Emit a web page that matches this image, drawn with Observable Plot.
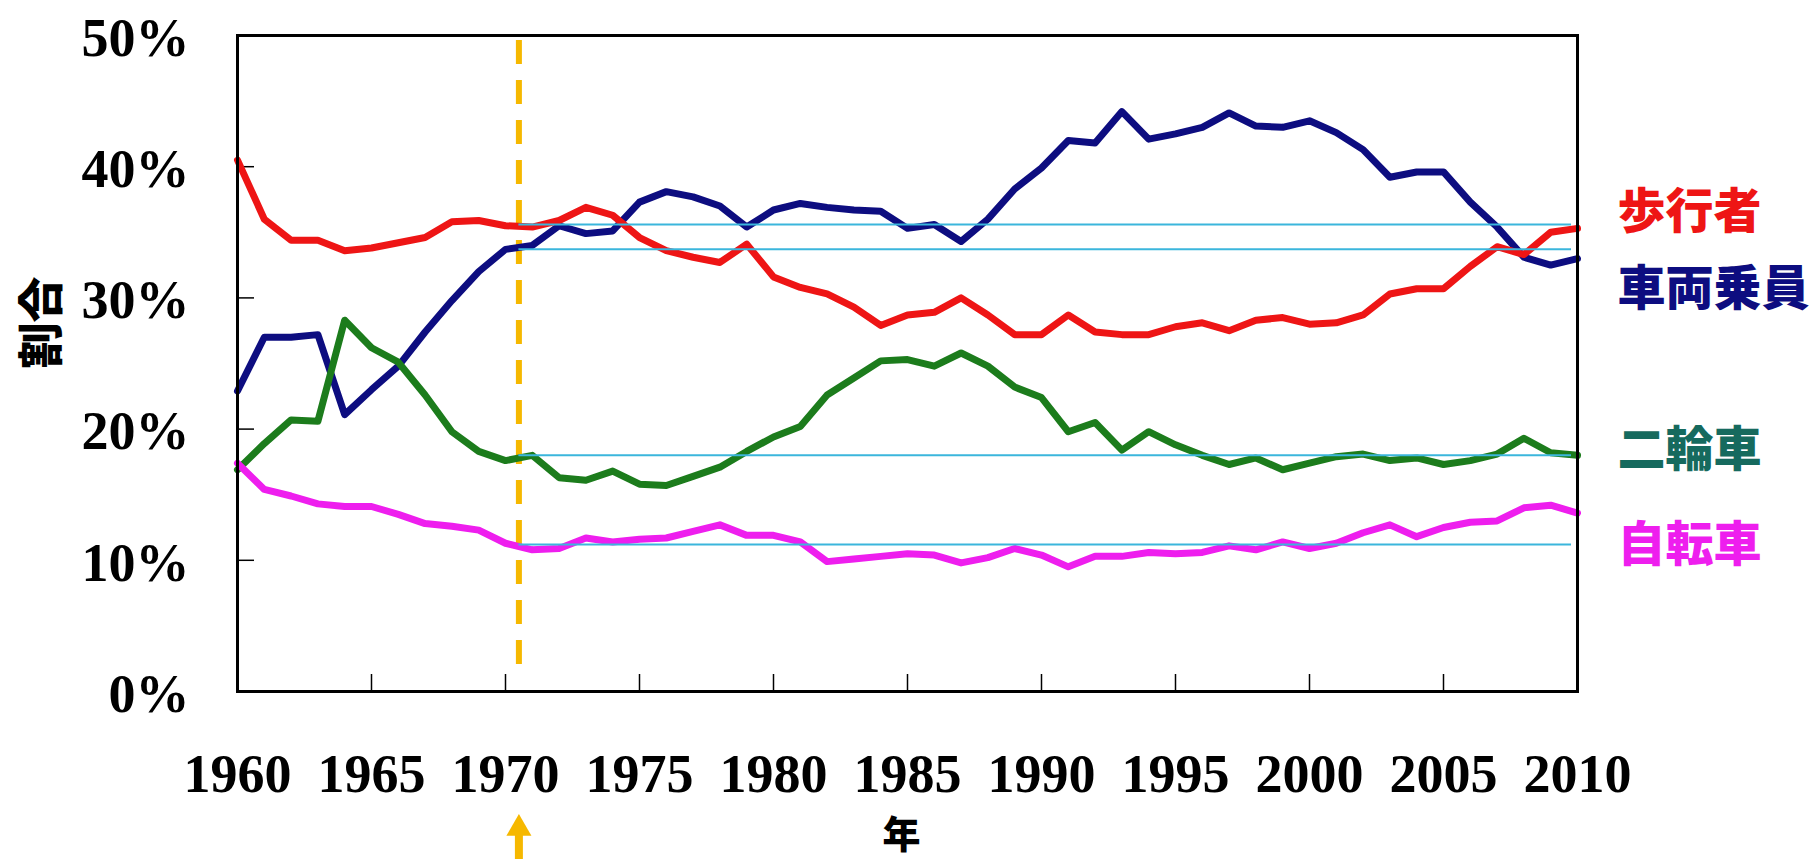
<!DOCTYPE html>
<html>
<head>
<meta charset="utf-8">
<script src="https://cdn.jsdelivr.net/npm/d3@7"></script>
<script src="https://cdn.jsdelivr.net/npm/@observablehq/plot@0.6"></script>
<style>
  html, body { margin: 0; padding: 0; background: #ffffff; }
</style>
</head>
<body>
<div id="chart"></div>
<script>
const years = d3.range(1960, 2011);

const pedestrian = [40.5,36.0,34.4,34.4,33.6,33.8,34.2,34.6,35.8,35.9,
  35.5,35.4,35.9,36.9,36.3,34.6,33.6,33.1,32.7,34.1,
  31.6,30.8,30.3,29.3,27.9,28.7,28.9,30.0,28.7,27.2,
  27.2,28.7,27.4,27.2,27.2,27.8,28.1,27.5,28.3,28.5,
  28.0,28.1,28.7,30.3,30.7,30.7,32.4,33.9,33.3,35.0,35.3];

const vehicle = [22.9,27.0,27.0,27.2,21.1,23.0,24.8,27.4,29.8,32.0,
  33.7,34.0,35.5,34.9,35.1,37.3,38.1,37.7,37.0,35.4,
  36.7,37.2,36.9,36.7,36.6,35.3,35.6,34.3,36.0,38.3,
  39.9,42.0,41.8,44.2,42.1,42.5,43.0,44.1,43.1,43.0,
  43.5,42.6,41.3,39.2,39.6,39.6,37.3,35.4,33.1,32.5,33.0];

const twoWheel = [16.9,18.9,20.7,20.6,28.3,26.2,25.1,22.6,19.8,18.3,
  17.6,18.0,16.3,16.1,16.8,15.8,15.7,16.4,17.1,18.3,
  19.4,20.2,22.6,23.9,25.2,25.3,24.8,25.8,24.8,23.2,
  22.4,19.8,20.5,18.4,19.8,18.8,18.0,17.3,17.8,16.9,
  17.4,17.9,18.1,17.6,17.8,17.3,17.6,18.1,19.3,18.2,18.0];

const bicycle = [17.4,15.4,14.9,14.3,14.1,14.1,13.5,12.8,12.6,12.3,
  11.3,10.8,10.9,11.7,11.4,11.6,11.7,12.2,12.7,11.9,
  11.9,11.4,9.9,10.1,10.3,10.5,10.4,9.8,10.2,10.9,
  10.4,9.5,10.3,10.3,10.6,10.5,10.6,11.1,10.8,11.4,
  10.9,11.3,12.1,12.7,11.8,12.5,12.9,13.0,14.0,14.2,13.6];

const seriesNames = ["歩行者", "車両乗員", "二輪車", "自転車"];
const refValues = [35.6, 33.7, 18.0, 11.2];   // 1970 reference levels
const markerYear = 1970.5;
const xLabels = [1960, 1965, 1970, 1975, 1980, 1985, 1990, 1995, 2000, 2005, 2010];
const xTickYears = [1965, 1970, 1975, 1980, 1985, 1990, 1995, 2000, 2005];
const yLabels = [0, 10, 20, 30, 40, 50];
const yTickValues = [10, 20, 30, 40];

const toRows = (vals) => years.map((y, i) => ({year: y, value: vals[i]}));

const W = 1816, H = 859;
const mL = 237, mR = 239, mT = 35, mB = 168;
const frameW = W - mL - mR, frameH = H - mT - mB;

const serif = "'Liberation Serif', 'Times New Roman', serif";
const cjk = "'Noto Sans CJK JP', 'Noto Sans CJK SC', sans-serif";
const orange = "#F6B800";
const cyan = "#3BB6DC";

const colors = {
  red: "#EE1515", navy: "#0D0D80", green: "#1C7C1C", magenta: "#EE1EEE", teal: "#166A5E"
};

const lw = 7;

const chart = Plot.plot({
  width: W, height: H,
  marginLeft: mL, marginRight: mR, marginTop: mT, marginBottom: mB,
  style: {background: "#ffffff", fontFamily: serif, color: "black"},
  x: {domain: [1960, 2010], axis: null},
  y: {domain: [0, 50], axis: null},
  marks: [
    Plot.axisY(yLabels, {anchor: "left", tickSize: 0, tickPadding: 48, dy: 3,
      tickFormat: d => d + "%", fontSize: 54, fontWeight: "bold", fontFamily: serif, label: null}),
    Plot.axisX(xLabels, {anchor: "bottom", tickSize: 0, tickPadding: 62,
      tickFormat: d => String(d), fontSize: 54, fontWeight: "bold", fontFamily: serif, label: null}),
    Plot.tickX(xTickYears, {x: d => d, insetTop: frameH - 17, stroke: "black", strokeWidth: 1.5}),
    Plot.tickY(yTickValues, {y: d => d, insetRight: frameW - 17, stroke: "black", strokeWidth: 1.5}),
    // dashed marker
    Plot.ruleX([markerYear], {x: d => d, stroke: orange, strokeWidth: 6,
      strokeDasharray: "24,16", insetTop: 5, insetBottom: 24}),
    // series lines
    Plot.line(toRows(vehicle), {x: "year", y: "value", stroke: colors.navy, strokeWidth: lw, strokeLinejoin: "round"}),
    Plot.line(toRows(twoWheel), {x: "year", y: "value", stroke: colors.green, strokeWidth: lw, strokeLinejoin: "round"}),
    Plot.line(toRows(bicycle), {x: "year", y: "value", stroke: colors.magenta, strokeWidth: lw, strokeLinejoin: "round"}),
    Plot.line(toRows(pedestrian), {x: "year", y: "value", stroke: colors.red, strokeWidth: lw, strokeLinejoin: "round"}),
    // 1970 reference levels
    Plot.ruleY(refValues, {y: d => d, x1: markerYear, x2: 2010, insetRight: 6, stroke: cyan, strokeWidth: 2}),
    Plot.frame({stroke: "black", strokeWidth: 3}),
    // arrow below axis
    Plot.ruleX([markerYear], {x: d => d, stroke: orange, strokeWidth: 8,
      insetTop: frameH + 143, insetBottom: -mB}),
    Plot.dot([markerYear], {x: d => d, frameAnchor: "bottom", dy: 137, symbol: "triangle", r: 9.3,
      fill: orange, stroke: null}),
    // series labels
    Plot.text([seriesNames[0]], {frameAnchor: "top-right", dx: 40, dy: 177, textAnchor: "start", lineAnchor: "middle",
      fill: colors.red, fontSize: 48, fontWeight: 900, fontFamily: cjk}),
    Plot.text([seriesNames[1]], {frameAnchor: "top-right", dx: 40, dy: 254, textAnchor: "start", lineAnchor: "middle",
      fill: colors.navy, fontSize: 48, fontWeight: 900, fontFamily: cjk}),
    Plot.text([seriesNames[2]], {frameAnchor: "top-right", dx: 40, dy: 415, textAnchor: "start", lineAnchor: "middle",
      fill: colors.teal, fontSize: 48, fontWeight: 900, fontFamily: cjk}),
    Plot.text([seriesNames[3]], {frameAnchor: "top-right", dx: 40, dy: 510, textAnchor: "start", lineAnchor: "middle",
      fill: colors.magenta, fontSize: 48, fontWeight: 900, fontFamily: cjk}),
    // axis titles
    Plot.text(["年"], {frameAnchor: "bottom", dx: -6, dy: 144, lineAnchor: "middle",
      fontSize: 38, fontWeight: 900, fontFamily: cjk, fill: "black"}),
    Plot.text(["割合"], {frameAnchor: "left", dx: -195, dy: 5, rotate: -90, lineAnchor: "middle",
      fontSize: 46, fontWeight: 900, fontFamily: cjk, fill: "black"})
  ]
});

document.getElementById("chart").appendChild(chart);
</script>
</body>
</html>
